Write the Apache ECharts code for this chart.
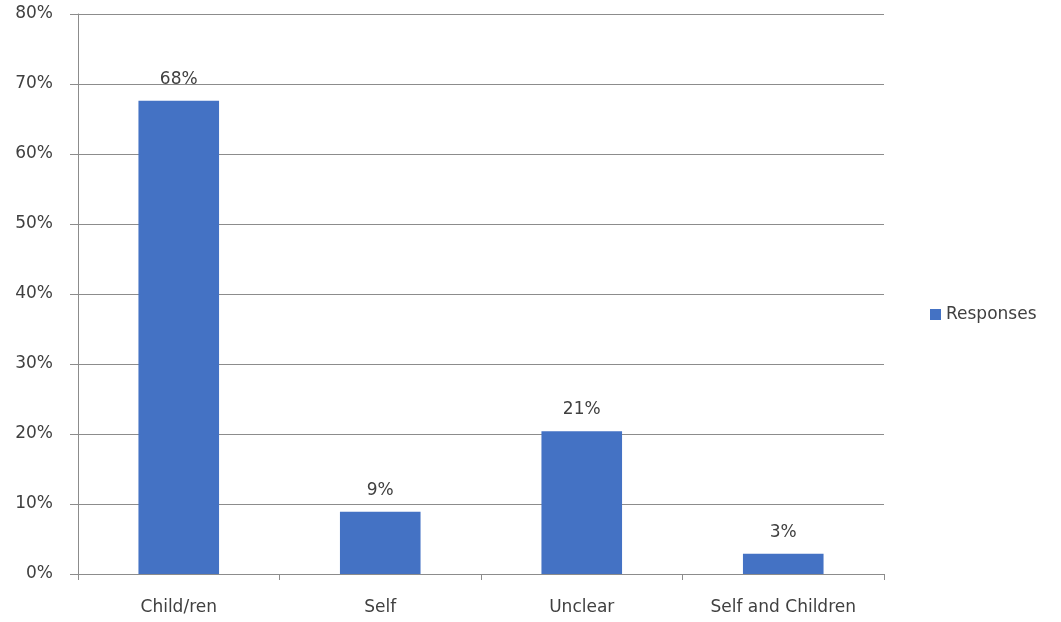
<!DOCTYPE html>
<html>
<head>
<meta charset="utf-8">
<script src="https://cdn.jsdelivr.net/npm/echarts@6/dist/echarts.min.js"></script>
<style>html,body{margin:0;padding:0;background:#fff}#c{width:1061px;height:622px}</style>
</head>
<body>
<div id="c"></div>
<script>
const categories = ['Child/ren', 'Self', 'Unclear', 'Self and Children'];
const responses = [67.6, 8.9, 20.4, 2.9];
const valueLabels = ['68%', '9%', '21%', '3%'];
const seriesName = 'Responses';

const chart = echarts.init(document.getElementById('c'));
const font = 'DejaVu Sans';
const txt = '#404040';
const lineCol = '#8c8c8c';
const fs = 17;
chart.setOption({
  animation: false,
  textStyle: { fontFamily: font },
  grid: { left: 78, top: 14, width: 806, bottom: 48, containLabel: false },
  legend: {
    orient: 'vertical', left: 925, top: 301,
    itemWidth: 11, itemHeight: 11, icon: 'rect',
    textStyle: { color: txt, fontSize: fs, fontFamily: font },
    data: [seriesName]
  },
  xAxis: {
    type: 'category', data: categories,
    axisLine: { lineStyle: { color: lineCol, width: 1 } },
    axisTick: { show: true, length: 6, lineStyle: { color: lineCol } },
    axisLabel: { color: txt, fontSize: fs, margin: 25, fontFamily: font }
  },
  yAxis: {
    type: 'value', min: 0, max: 80, interval: 10,
    axisLine: { show: true, lineStyle: { color: lineCol, width: 1 } },
    axisTick: { show: true, length: 8, lineStyle: { color: lineCol } },
    axisLabel: { color: txt, fontSize: fs, margin: 25, formatter: '{value}%', fontFamily: font },
    splitLine: { lineStyle: { color: lineCol, width: 1 } }
  },
  series: [{
    name: seriesName, type: 'bar', data: responses,
    barWidth: '40%',
    itemStyle: { color: '#4472C4' },
    label: {
      show: true, position: 'top', distance: 13,
      color: txt, fontSize: fs, fontFamily: font,
      formatter: p => valueLabels[p.dataIndex]
    }
  }]
});
</script>
</body>
</html>
